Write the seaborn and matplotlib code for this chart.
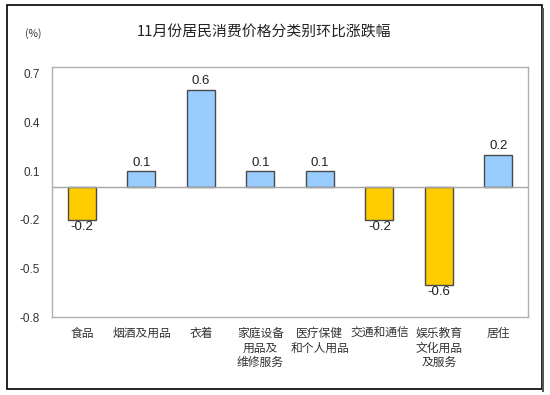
import matplotlib
matplotlib.use("Agg")
import matplotlib.pyplot as plt
import pandas as pd
import seaborn as sns
from matplotlib.patches import Rectangle

categories = ["食品", "烟酒及用品", "衣着", "家庭设备\n用品及\n维修服务", "医疗保健\n和个人用品",
              "交通和通信", "娱乐教育\n文化用品\n及服务", "居住"]
values = [-0.2, 0.1, 0.6, 0.1, 0.1, -0.2, -0.6, 0.2]
yticks = [-0.8, -0.5, -0.2, 0.1, 0.4, 0.7]

sns.set_style("white")
plt.rcParams["font.family"] = ["Noto Sans CJK SC", "DejaVu Sans"]

df = pd.DataFrame({"cat": categories, "val": values})
df["sign"] = ["neg" if v < 0 else "pos" for v in values]

fig = plt.figure(figsize=(5.5, 3.95), dpi=100)
ax = fig.add_axes([0.095, 0.197, 0.865, 0.633])

sns.barplot(data=df, x="cat", y="val", hue="sign", dodge=False, width=0.47,
            palette={"neg": "#FFCC00", "pos": "#99CCFF"}, edgecolor="#4a4a4a",
            linewidth=1.0, saturation=1, legend=False, ax=ax)

ax.axhline(0, color="#a6a6a6", lw=1.0, zorder=1)
ax.set_xlim(-0.5, 7.5)
ax.set_ylim(-0.8, 0.74)
ax.set_yticks(yticks)
ax.set_yticklabels([f"{t:.1f}" for t in yticks], fontsize=8.5, color="#333333",
                   family=["Liberation Sans", "DejaVu Sans"])
ax.tick_params(axis="y", direction="out", length=3, color="#a6a6a6", pad=6)
ax.tick_params(axis="x", length=0, pad=7)
ax.set_xticks(range(len(categories)))
ax.set_xticklabels(categories, fontsize=8.5, color="#333333", linespacing=1.15, va="top")
ax.set_xlabel("")
ax.set_ylabel("")
for s in ax.spines.values():
    s.set_color("#b0b0b0")
    s.set_linewidth(1.0)

for i, v in enumerate(values):
    if v >= 0:
        ax.text(i, v + 0.015, f"{v:.1f}", ha="center", va="bottom", fontsize=9.5,
                color="#222222", family=["Liberation Sans", "DejaVu Sans"])
    else:
        ax.text(i, v - 0.01, f"{v:.1f}", ha="center", va="top", fontsize=9.5,
                color="#222222", family=["Liberation Sans", "DejaVu Sans"])

fig.text(0.48, 0.918, "11月份居民消费价格分类别环比涨跌幅", ha="center", va="center",
         fontsize=10.7, color="#222222")
fig.text(0.06, 0.916, "(%)", ha="center", va="center", fontsize=7.5, color="#333333")

# outer frame with a little shadow on the right/bottom
fig.patches.append(Rectangle((0.012, 0.015), 0.973, 0.972, transform=fig.transFigure,
                             fill=False, edgecolor="black", lw=1.2))
fig.patches.append(Rectangle((0.985, 0.008), 0.004, 0.972, transform=fig.transFigure,
                             facecolor="#555555", edgecolor="none"))

fig.savefig("out.png", dpi=100)
